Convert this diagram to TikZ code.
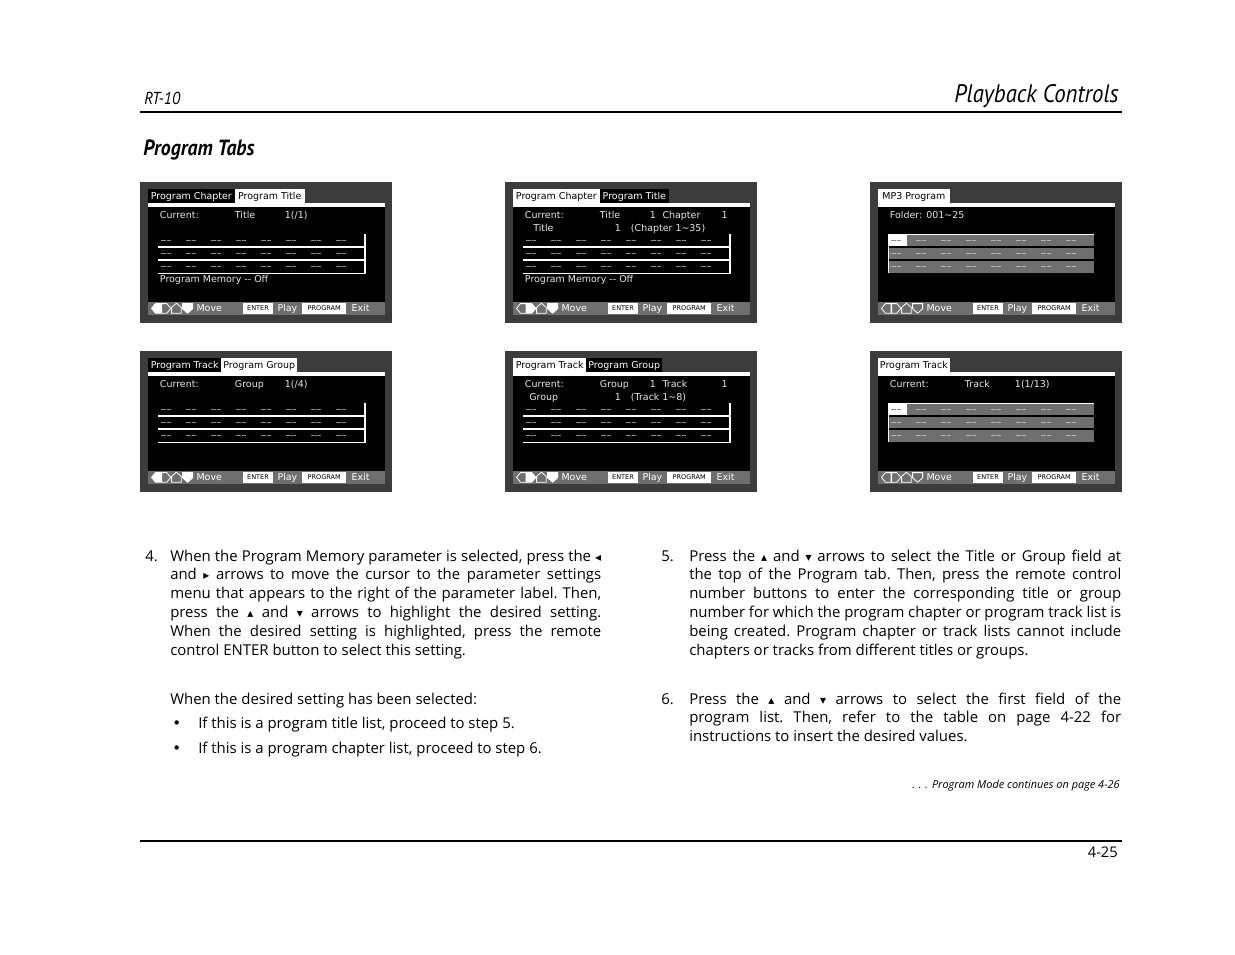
\documentclass[tikz,border=0pt]{standalone}
\usepackage{fontspec}
\setmainfont{Open Sans}
\newfontfamily\osd{DejaVu Sans}
\newfontfamily\headfont[FakeStretch=0.9]{PT Sans}
\usetikzlibrary{calc}

\definecolor{osdframe}{HTML}{3C3C3C}
\definecolor{osdbar}{HTML}{6E6E6E}
\definecolor{osdtext}{HTML}{E8E8E8}
\definecolor{osddash}{HTML}{8C8C8C}
\definecolor{osdcell}{HTML}{6F6F6F}
\definecolor{osdlight}{HTML}{B4B4B4}

\newcommand{\bodyfont}{\fontsize{11.2}{14.1}\selectfont\frenchspacing}
\newcommand{\keyleft}{{\osd\small ◂}}
\newcommand{\keyright}{{\osd\small ▸}}
\newcommand{\keyup}{{\osd\small ▴}}
\newcommand{\keydown}{{\osd\small ▾}}

% one tab of the on-screen menu: x1, x2, fill, text, label
\newcommand{\osdtab}[5]{%
	\fill[#3] (#1,7.3) rectangle (#2,21.3);
	\node[osdtxt,anchor=base,text=#4] (tab) at ({(#1+#2)/2},17.7) {#5};}

% the eight columns of empty entries
\newcommand{\osddashes}[1]{%
	\foreach \r in {58.2,71.5,84.8}
	\foreach \c in {0,...,7}
	\draw[dashrun,#1] ({21.3+25*\c},\r) -- ++(10,0);}

% screen: x, y, fills of the four keys, contents
\newcommand{\osdscreen}[7]{%
	\begin{scope}[shift={(#1,#2)}]
		\fill[osdframe] (0,0) rectangle (252,141);
		\fill[white] (8,21.3) rectangle (245,24.7);
		\fill[black] (8,24.7) rectangle (245,119.7);
		\fill[osdbar] (8,119.7) rectangle (245,133);
		\filldraw[key,fill=#3] (11.5,126.4) -- (15.5,121.6) -- (21,121.6) -- (21,131.2) -- (15.5,131.2) -- cycle;
		\filldraw[key,fill=#4] (21.6,121.6) -- (26.8,121.6) -- (30.8,126.4) -- (26.8,131.2) -- (21.6,131.2) -- cycle;
		\filldraw[key,fill=#5] (31.6,131.2) -- (31.6,125.4) -- (36.4,121.2) -- (41.2,125.4) -- (41.2,131.2) -- cycle;
		\filldraw[key,fill=#6] (42.6,121.6) -- (52.6,121.6) -- (52.6,126.8) -- (47.6,131.2) -- (42.6,126.8) -- cycle;
		\node[osdtxt,text=white] (move) at (56.3,129.8) {Move};
		\fill[white] (103,120.7) rectangle (133,132.3);
		\node[keytxt] (enter) at (118,128.9) {ENTER};
		\node[osdtxt,text=white] (play) at (137.3,129.8) {Play};
		\fill[white] (162,120.7) rectangle (206.3,132.3);
		\node[keytxt] (prog) at (184.2,128.9) {PROGRAM};
		\node[osdtxt,text=white] (exit) at (211.3,129.8) {Exit};
		#7
	\end{scope}}

% list with frame lines (chapter and track lists)
\newcommand{\osdlist}{%
	\draw[gridline] (18,64.7) -- (224.7,64.7);
	\draw[gridline] (18,78) -- (224.7,78);
	\draw[gridline] (18,91.3) -- (224.7,91.3) -- (224.7,52.3);
	\osddashes{osddash}}

% list with grey cells (MP3 list)
\newcommand{\osdcells}{%
	\fill[osdcell] (18,52.3) rectangle (224,64);
	\fill[osdcell] (18,65.7) rectangle (224,77.3);
	\fill[osdcell] (18,79) rectangle (224,90.7);
	\fill[white] (18,52.3) rectangle (37.3,64);
	\draw[white,line width=0.6pt] (18,90.7) -- (18,52.3) -- (224,52.3);
	\osddashes{osdlight}
	\draw[dashrun,osddash] (21.3,58.2) -- ++(10,0);}

\begin{document}
\begin{tikzpicture}[x=0.75pt,y=-0.75pt,
	osdtxt/.style={font=\osd\fontsize{7.1}{8}\selectfont,text=osdtext,inner sep=0pt,anchor=base west},
	keytxt/.style={font=\osd\fontsize{4.9}{5}\selectfont,text=black,inner sep=0pt,anchor=base},
	key/.style={draw=white,line width=0.6pt},
	gridline/.style={white,line width=1.2pt},
	dashrun/.style={line width=0.9pt,dash pattern=on 3.3pt off 0.9pt},
	para/.style={text width=323.25pt,align=justify,inner sep=0pt,anchor=base west,font=\bodyfont},
	plain/.style={inner sep=0pt,anchor=base west,font=\bodyfont}]
	\useasboundingbox (0,0) rectangle (1235,954);
	\fill[white] (0,0) rectangle (1235,954);

	% page head and foot
	\node[inner sep=0pt,anchor=base west,font=\headfont\itshape\fontsize{13}{13}\selectfont] (model) at (144,104) {RT-10};
	\node[inner sep=0pt,anchor=base east,font=\headfont\itshape\fontsize{19}{19}\selectfont] (chap) at (1119,102) {Playback Controls};
	\draw[line width=0.8pt] (140,112) -- (1122,112);
	\node[inner sep=0pt,anchor=base west,font=\headfont\bfseries\itshape\fontsize{16.5}{17}\selectfont] (sect) at (143,155) {Program Tabs};
	\draw[line width=0.8pt] (140,841) -- (1122,841);
	\node[inner sep=0pt,anchor=base east,font=\fontsize{11}{12}\selectfont] (page) at (1118,857) {4-25};
	\node[inner sep=0pt,anchor=base east,font=\itshape\fontsize{8.2}{9}\selectfont] (cont) at (1120,788) {. . . Program Mode continues on page 4-26};

	% screens
	\osdscreen{140}{182}{white}{osdbar}{osdbar}{white}{%
		\osdtab{8}{94.7}{black}{white}{Program Chapter}
		\osdtab{94.7}{164.7}{white}{black}{Program Title}
		\node[osdtxt] (cur) at (19.7,36.4) {Current:};
		\node[osdtxt] (fld) at (94.7,36.4) {Title};
		\node[osdtxt] (num) at (144.7,36.4) {1(/1)};
		\osdlist
		\node[osdtxt] (mem) at (19.7,100.7) {Program Memory -\kern0pt- Off};}
	\osdscreen{505}{182}{osdbar}{white}{osdbar}{white}{%
		\osdtab{8}{94.7}{white}{black}{Program Chapter}
		\osdtab{94.7}{164}{black}{white}{Program Title}
		\node[osdtxt] (cur) at (19.7,36.4) {Current:};
		\node[osdtxt] (fld) at (94.7,36.4) {Title};
		\node[osdtxt] (num) at (144.7,36.4) {1};
		\node[osdtxt] (sub) at (157.3,36.4) {Chapter};
		\node[osdtxt] (subn) at (216.3,36.4) {1};
		\node[osdtxt] (fld2) at (28,49.1) {Title};
		\node[osdtxt] (num2) at (109.7,49.1) {1};
		\node[osdtxt] (rng) at (125.7,49.1) {(Chapter 1\textasciitilde35)};
		\osdlist
		\node[osdtxt] (mem) at (19.7,100.7) {Program Memory -\kern0pt- Off};}
	\osdscreen{870}{182}{osdbar}{osdbar}{osdbar}{osdbar}{%
		\osdtab{8}{79.7}{white}{black}{MP3 Program}
		\node[osdtxt] (cur) at (19.7,36.4) {Folder: 001\textasciitilde25};
		\osdcells}
	\osdscreen{140}{351}{white}{osdbar}{osdbar}{white}{%
		\osdtab{8}{81.3}{black}{white}{Program Track}
		\osdtab{81.3}{157.3}{white}{black}{Program Group}
		\node[osdtxt] (cur) at (19.7,36.4) {Current:};
		\node[osdtxt] (fld) at (94.7,36.4) {Group};
		\node[osdtxt] (num) at (144.7,36.4) {1(/4)};
		\osdlist}
	\osdscreen{505}{351}{osdbar}{white}{osdbar}{white}{%
		\osdtab{8}{81.3}{white}{black}{Program Track}
		\osdtab{81.3}{157.3}{black}{white}{Program Group}
		\node[osdtxt] (cur) at (19.7,36.4) {Current:};
		\node[osdtxt] (fld) at (94.7,36.4) {Group};
		\node[osdtxt] (num) at (144.7,36.4) {1};
		\node[osdtxt] (sub) at (157.3,36.4) {Track};
		\node[osdtxt] (subn) at (216.3,36.4) {1};
		\node[osdtxt] (fld2) at (24,49.1) {Group};
		\node[osdtxt] (num2) at (109.7,49.1) {1};
		\node[osdtxt] (rng) at (125.7,49.1) {(Track 1\textasciitilde8)};
		\osdlist}
	\osdscreen{870}{351}{osdbar}{osdbar}{osdbar}{osdbar}{%
		\osdtab{8}{79.7}{white}{black}{Program Track}
		\node[osdtxt] (cur) at (19.7,36.4) {Current:};
		\node[osdtxt] (fld) at (94.7,36.4) {Track};
		\node[osdtxt] (num) at (144.7,36.4) {1(1/13)};
		\osdcells}

	% steps, left column
	\node[plain] (n4) at (145,561) {4.};
	\node[para] (s4) at (170,561) {When the Program Memory parameter is selected, press the \keyleft\linebreak
		and \keyright{} arrows to move the cursor to the parameter settings\linebreak
		menu that appears to the right of the parameter label. Then,\linebreak
		press the \keyup{} and \keydown{} arrows to highlight the desired setting.\linebreak
		When the desired setting is highlighted, press the remote\linebreak
		control ENTER button to select this setting.};
	\node[plain] (sel) at (170,704) {When the desired setting has been selected:};
	\node[plain] (b1) at (172,728) {{\osd •}};
	\node[plain] (t1) at (198,728) {If this is a program title list, proceed to step 5.};
	\node[plain] (b2) at (172,753) {{\osd •}};
	\node[plain] (t2) at (198,753) {If this is a program chapter list, proceed to step 6.};

	% steps, right column
	\node[plain] (n5) at (661,561) {5.};
	\node[para,text width=324pt] (s5) at (689,561) {Press the \keyup{} and \keydown{} arrows to select the Title or Group field at\linebreak
		the top of the Program tab. Then, press the remote control\linebreak
		number buttons to enter the corresponding title or group\linebreak
		number for which the program chapter or program track list is\linebreak
		being created. Program chapter or track lists cannot include\linebreak
		chapters or tracks from different titles or groups.};
	\node[plain] (n6) at (661,704) {6.};
	\node[para,text width=324pt] (s6) at (689,704) {Press the \keyup{} and \keydown{} arrows to select the first field of the\linebreak
		program list. Then, refer to the table on page 4-22 for\linebreak
		instructions to insert the desired values.};
\end{tikzpicture}
\end{document}
